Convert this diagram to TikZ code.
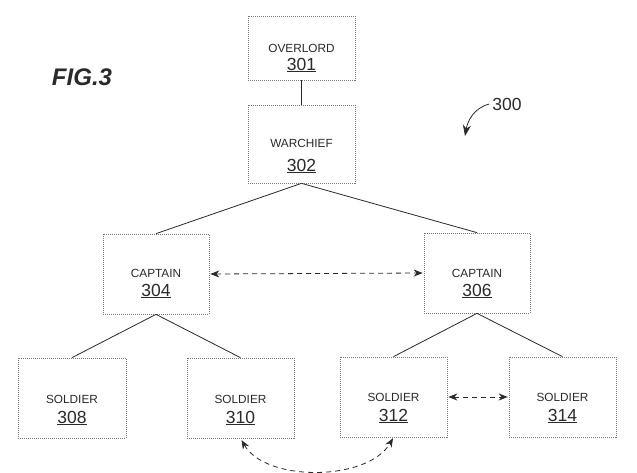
\documentclass[tikz,border=0pt]{standalone}
\usepackage{fontspec}
\setmainfont{Liberation Sans}
\usetikzlibrary{arrows.meta}
\definecolor{boxgray}{HTML}{7A7A7A}
\definecolor{ink}{HTML}{2A2A2A}
\tikzset{
  unitbox/.style={draw=boxgray, line width=0.7pt, dash pattern=on 1pt off 1pt,
    minimum width=107pt, minimum height=80pt, inner sep=0pt},
  roletext/.style={font=\fontsize{11.8}{13}\selectfont, text=ink, inner sep=0pt},
  numtext/.style={font=\fontsize{17.5}{20}\selectfont, text=ink, inner sep=0pt},
  conn/.style={draw=ink, line width=0.8pt},
  link/.style={draw=ink, line width=0.8pt, dash pattern=on 5pt off 4pt,
    {Stealth[length=9pt,width=7pt]}-{Stealth[length=9pt,width=7pt]}},
  refnum/.style={font=\fontsize{17.5}{20}\selectfont, text=ink, inner sep=0pt},
  figtitle/.style={font=\fontsize{24}{28}\selectfont\bfseries\itshape, text=ink, inner sep=0pt}
}
\begin{document}
\begin{tikzpicture}[x=1pt,y=-1pt]
\useasboundingbox[fill=white] (0,0) rectangle (637,473);

\node[figtitle] (fig) at (82,77) {FIG.3};
\node[refnum] (r300) at (507,104) {300};

\node[unitbox, minimum height=64pt,
  label={[roletext]center:OVERLORD},
  label={[numtext,yshift=-17pt]center:\underline{301}}] (o) at (301.5,48) {};
\node[unitbox, minimum height=78pt,
  label={[roletext,yshift=1pt]center:WARCHIEF},
  label={[numtext,yshift=-22pt]center:\underline{302}}] (w) at (301.5,144) {};
\node[unitbox, minimum width=106pt,
  label={[roletext,yshift=1pt]center:CAPTAIN},
  label={[numtext,yshift=-17pt]center:\underline{304}}] (c4) at (156,274) {};
\node[unitbox, minimum width=106pt,
  label={[roletext]center:CAPTAIN},
  label={[numtext,yshift=-18pt]center:\underline{306}}] (c6) at (477,273) {};
\node[unitbox, minimum width=108pt,
  label={[roletext,yshift=-1pt]center:SOLDIER},
  label={[numtext,yshift=-20pt]center:\underline{308}}] (s8) at (72,398) {};
\node[unitbox,
  label={[roletext,yshift=-1pt]center:SOLDIER},
  label={[numtext,yshift=-20pt]center:\underline{310}}] (s10) at (240.5,398) {};
\node[unitbox,
  label={[roletext]center:SOLDIER},
  label={[numtext,yshift=-19pt]center:\underline{312}}] (s12) at (393.5,397) {};
\node[unitbox,
  label={[roletext]center:SOLDIER},
  label={[numtext,yshift=-19pt]center:\underline{314}}] (s14) at (562.5,397) {};

\draw[conn] (o.south) -- (w.north);
\draw[conn] (w.south) -- (c4.north);
\draw[conn] (w.south) -- (c6.north);
\draw[conn] (c4.south) -- (s8.north);
\draw[conn] (c4.south) -- (s10.north);
\draw[conn] (c6.south) -- (s12.north);
\draw[conn] (c6.south) -- (s14.north);

\draw[link, shorten <=1pt, shorten >=1pt] (c4.east) -- (c6.west);
\draw[link, shorten <=1pt, shorten >=1pt] (s12.east) -- (s14.west);
\draw[link, shorten <=2pt, shorten >=1pt] (s10.south) to[out=-60, in=-120, looseness=0.85] (s12.south);

\coordinate (t300) at (465,136);
\draw[draw=ink, line width=0.8pt, -{Stealth[length=11pt,width=8pt]}]
  ([xshift=-3pt]r300.west) to[out=195, in=80] (t300);
\end{tikzpicture}
\end{document}
